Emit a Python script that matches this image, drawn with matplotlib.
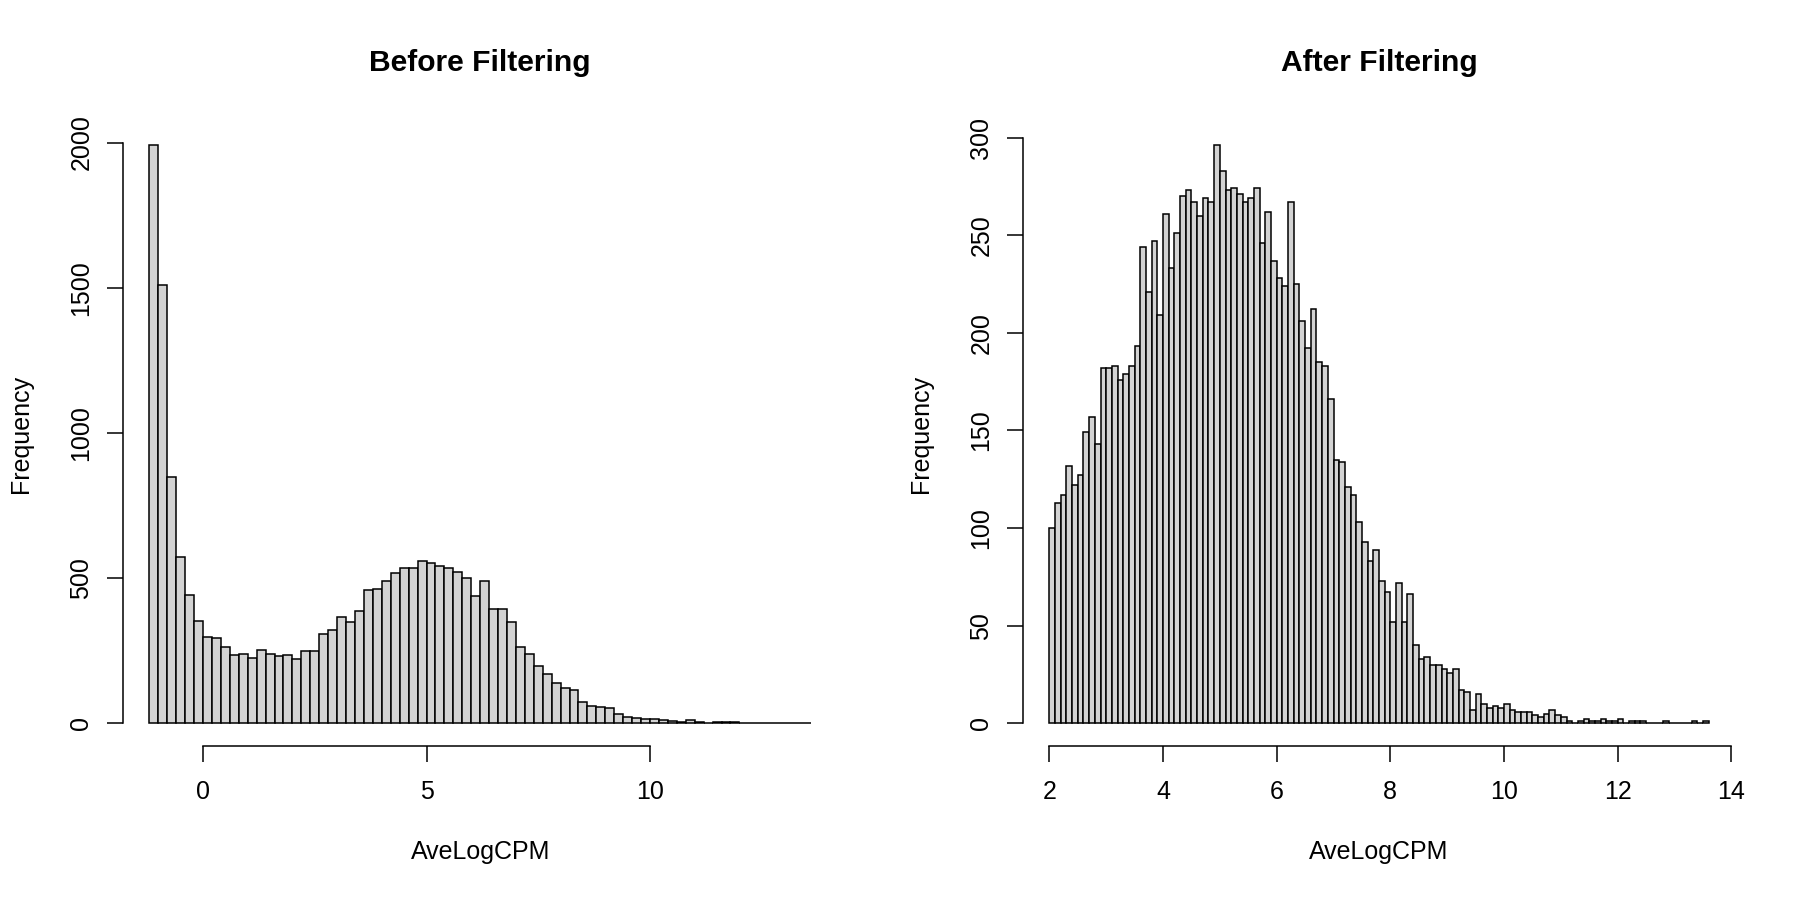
import numpy as np
import matplotlib.pyplot as plt

plt.rcParams['font.family'] = ['Liberation Sans', 'DejaVu Sans']

# histogram counts
before_start = -1.2
before_width = 0.2
before_counts = [
    1990, 1511, 848, 571, 442, 352, 298, 295, 264, 236,
    239, 224, 253, 238, 233, 235, 222, 249, 248, 308,
    321, 365, 350, 386, 459, 464, 490, 517, 536, 536,
    560, 553, 543, 536, 522, 502, 439, 491, 394, 394,
    348, 264, 238, 196, 170, 138, 123, 115, 75, 60,
    56, 52, 31, 20, 17, 15, 15, 11, 9, 6,
    11, 3, 1, 3, 3, 3, 1, 2, 1, 1,
    2, 1, 2, 2,
]

after_start = 2.0
after_width = 0.1
after_counts = [
    100, 113, 117, 132, 122, 127, 149, 157, 143, 182,
    182, 183, 176, 179, 183, 193, 244, 221, 247, 209,
    261, 233, 251, 270, 273, 267, 260, 269, 267, 296,
    283, 273, 274, 271, 267, 269, 274, 246, 262, 237,
    228, 224, 267, 225, 206, 192, 212, 185, 183, 166,
    135, 134, 121, 117, 103, 93, 83, 89, 73, 67,
    52, 72, 52, 66, 40, 33, 34, 30, 30, 28,
    26, 28, 17, 16, 7, 15, 10, 8, 9, 8,
    10, 7, 6, 6, 6, 4, 3, 5, 7, 4,
    3, 1, 0, 1, 2, 1, 1, 2, 1, 1,
    2, 0, 1, 1, 1, 0, 0, 0, 1, 0,
    0, 0, 0, 1, 0, 1,
]

before_xticks = [0, 5, 10]
before_yticks = [0, 500, 1000, 1500, 2000]
after_xticks = [2, 4, 6, 8, 10, 12, 14]
after_yticks = [0, 50, 100, 150, 200, 250, 300]

panels = [
    ('Before Filtering', before_start, before_width, before_counts,
     before_xticks, before_yticks, [0.06828, 0.17067, 0.39694, 0.69344]),
    ('After Filtering', after_start, after_width, after_counts,
     after_xticks, after_yticks, [0.56833, 0.17067, 0.39556, 0.69344]),
]

lw = 1.1
fs = 18

fig = plt.figure(figsize=(18, 9), dpi=100)

for title, start, width, counts, xt, yt, pos in panels:
    ax = fig.add_axes(pos)
    counts = np.array(counts)
    lefts = start + width * np.arange(len(counts))
    ax.bar(lefts, counts, width=width, align='edge', color='#D3D3D3',
           edgecolor='black', linewidth=lw)

    # R style 4% padding around the data range
    x0, x1 = lefts[0], lefts[-1] + width
    pad = 0.04 * (x1 - x0)
    ax.set_xlim(x0 - pad, x1 + pad)
    ymax = counts.max()
    ax.set_ylim(-0.04 * ymax, 1.04 * ymax)

    for s in ['top', 'right']:
        ax.spines[s].set_visible(False)
    ax.spines['left'].set_bounds(yt[0], yt[-1])
    ax.spines['bottom'].set_bounds(xt[0], xt[-1])
    ax.spines['left'].set_linewidth(lw)
    ax.spines['bottom'].set_linewidth(lw)

    ax.set_xticks(xt)
    ax.set_yticks(yt)
    ax.set_yticklabels([str(v) for v in yt], rotation=90, va='center')
    ax.tick_params(axis='both', length=11.3, width=lw, labelsize=fs, colors='black')
    ax.tick_params(axis='x', pad=13)
    ax.tick_params(axis='y', pad=10)

    ax.text(0.5, 1.095, title, transform=ax.transAxes, ha='center', va='center',
            fontsize=21.6, fontweight='bold')
    ax.set_xlabel('AveLogCPM', fontsize=fs)
    ax.xaxis.set_label_coords(0.5, -0.169)
    ax.xaxis.label.set_va('center')
    ax.set_ylabel('Frequency', fontsize=fs)
    ax.yaxis.set_label_coords(-0.143, 0.5)
    ax.yaxis.label.set_va('center')

fig.savefig('out.png', dpi=100)
